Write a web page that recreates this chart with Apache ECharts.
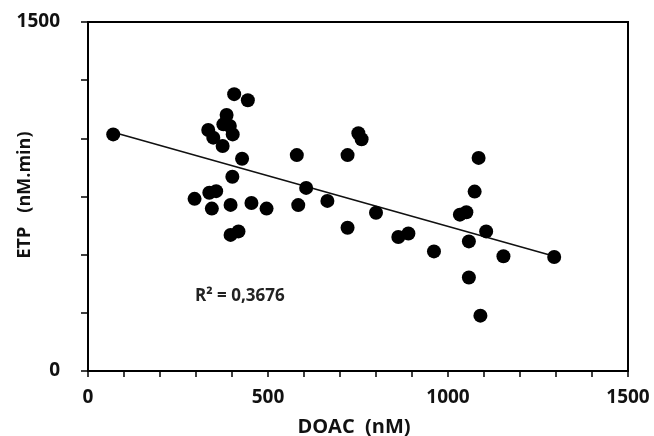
<!DOCTYPE html>
<html><head><meta charset="utf-8">
<script src="https://cdn.jsdelivr.net/npm/echarts@6/dist/echarts.min.js"></script>
<style>html,body{margin:0;padding:0;background:#fff}#c{width:654px;height:436px}</style>
</head><body><div id="c"></div>
<script>
var doac = [70,406,444,385,376,394,334,348,402,374,428,401,337,356,296,344,396,454,496,396,418,
            580,721,751,760,606,584,665,800,721,862,890,961,
            1085,1074,1033,1051,1106,1058,1154,1295,1058,1090];
var etp  = [1017,1190,1164,1100,1060,1053,1036,1003,1017,967,912,835,766,773,740,698,714,722,698,585,600,
            928,928,1022,996,787,713,731,680,616,576,591,514,
            916,771,672,682,600,557,493,490,402,238];
var trendX = [70, 1300];
var trendY = [1026, 491];
var xTitle = 'DOAC  (nM)';
var yTitle = 'ETP   (nM.min)';
var r2Text = 'R² = 0,3676';

var pts = doac.map(function(v,i){return [v, etp[i]];});
var trend = trendX.map(function(v,i){return [v, trendY[i]];});
var FONT = '"Open Sans"';
var chart = echarts.init(document.getElementById('c'), null, {renderer:'canvas'});
chart.setOption({
  animation:false,
  backgroundColor:'#fff',
  grid:{left:88,right:26,top:22,bottom:65,show:true,borderColor:'#000',borderWidth:2,backgroundColor:'transparent'},
  xAxis:{type:'value',min:0,max:1500,interval:100,
    axisLine:{show:true,lineStyle:{color:'#000',width:2}},
    axisTick:{show:true,length:6,lineStyle:{color:'#000',width:1.5}},
    splitLine:{show:false},
    axisLabel:{margin:17,color:'#111',fontFamily:'Open Sans',fontWeight:'bold',fontSize:19,
      formatter:function(v){return v%500===0?String(v):'';}}
  },
  yAxis:{type:'value',min:0,max:1500,interval:250,
    axisLine:{show:true,lineStyle:{color:'#000',width:2}},
    axisTick:{show:true,length:7,lineStyle:{color:'#000',width:1.5}},
    splitLine:{show:false},
    axisLabel:{margin:28,color:'#111',fontFamily:'Open Sans',fontWeight:'bold',fontSize:19,
      formatter:function(v){return (v===0||v===1500)?String(v):'';}}
  },
  series:[
    {type:'line',data:trend,symbol:'none',lineStyle:{color:'#111',width:1.6},z:2},
    {type:'scatter',data:pts,symbol:'circle',symbolSize:14,itemStyle:{color:'#000',opacity:1},z:3}
  ],
  graphic:[
    {type:'text',x:354,y:427,
      style:{text:xTitle,font:'bold 20px '+FONT,fill:'#111',textAlign:'center',textVerticalAlign:'middle'}},
    {type:'text',x:25,y:195,rotation:Math.PI/2,
      style:{text:yTitle,font:'bold 18px '+FONT,fill:'#111',textAlign:'center',textVerticalAlign:'middle'}},
    {type:'text',x:195,y:296,
      style:{text:r2Text,font:'bold 17px '+FONT,fill:'#222',textAlign:'left',textVerticalAlign:'middle'}}
  ]
});
</script></body></html>
